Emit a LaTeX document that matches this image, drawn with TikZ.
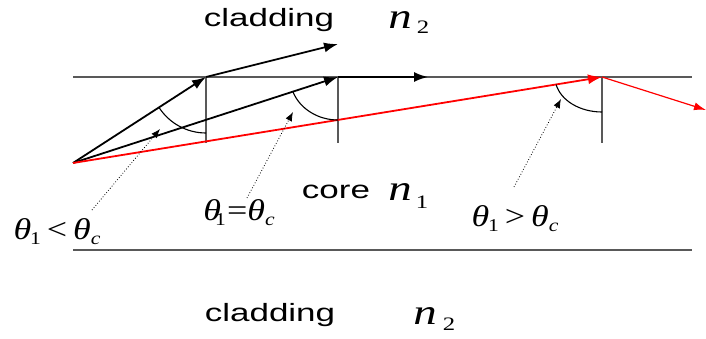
\documentclass[tikz,border=0pt]{standalone}
\usepackage{fontspec}
\setmainfont{Liberation Sans}
\newfontfamily\serif{Liberation Serif}
\usetikzlibrary{arrows.meta}
\tikzset{
  bound/.style={draw=black!65, line width=1.2pt},
  perp/.style={draw=black!65, line width=1.2pt},
  ray/.style={draw=black, line width=1.8pt, -{Latex[length=14pt,width=10pt]}},
  redray/.style={draw=red, line width=1.8pt, -{Latex[length=14pt,width=10pt]}},
  redout/.style={draw=red, line width=1.2pt, -{Latex[length=12pt,width=8pt]}},
  angarc/.style={draw=black, line width=1.1pt},
  pointer/.style={draw=black, line width=0.8pt, dotted, -{Latex[length=9pt,width=7pt]}},
  word/.style={inner sep=0pt, font=\fontsize{25}{25}\selectfont, xscale=1.4},
  sym/.style={inner sep=0pt, font=\serif\itshape\fontsize{36}{36}\selectfont, xscale=1.3},
  idx/.style={inner sep=0pt, font=\serif\fontsize{19}{19}\selectfont, xscale=1.3},
  mathlab/.style={inner sep=0pt, font=\serif\fontsize{30}{30}\selectfont, xscale=1.2},
}
\newcommand{\thet}{\textit{θ}}
\newcommand{\lsub}[1]{\raisebox{-0.35ex}{\fontsize{18}{18}\selectfont #1}}
\begin{document}
\begin{tikzpicture}[x=1pt,y=1pt]
\useasboundingbox (0,0) rectangle (706,338);
% points
\coordinate (S) at (73,175);
\coordinate (A) at (206,261);
\coordinate (A2) at (338,294);
\coordinate (B) at (338,261);
\coordinate (B2) at (428,261);
\coordinate (C) at (602,261);
\coordinate (C2) at (706,228);
\coordinate (Ab) at (206,195);
\coordinate (Bb) at (338,195);
\coordinate (Cb) at (602,195);
\coordinate (L1) at (73,261);
\coordinate (R1) at (692,261);
\coordinate (L2) at (73,88);
\coordinate (R2) at (692,88);
\coordinate (P1) at (92,128);
\coordinate (Q1) at (160,209);
\coordinate (P2) at (247,140);
\coordinate (Q2) at (293,226);
\coordinate (P3) at (514,151);
\coordinate (Q3) at (561,239);
% boundaries
\draw[bound] (L1) -- (R1);
\draw[bound] (L2) -- (R2);
% normals
\draw[perp] (A) -- (Ab);
\draw[perp] (B) -- (Bb);
\draw[perp] (C) -- (Cb);
% rays
\draw[ray] (S) -- (A);
\draw[ray] (A) -- (A2);
\draw[ray] (S) -- (B);
\draw[ray] (B) -- (B2);
\draw[redray] (S) -- (C);
\draw[redout] (C) -- (C2);
% angle arcs
\draw[angarc] (A) ++(212.9:56) arc[start angle=212.9, end angle=270, radius=56];
\draw[angarc] (B) ++(-45.07,-14.78) arc[start angle=200.1, end angle=270, x radius=48, y radius=43];
\draw[angarc] (C) ++(-45.89,-7.58) arc[start angle=192.5, end angle=270, x radius=47, y radius=35];
% pointers
\draw[pointer] (P1) -- (Q1);
\draw[pointer] (P2) -- (Q2);
\draw[pointer] (P3) -- (Q3);
% texts
\node[word] (clt) at (269,318) {cladding};
\node[sym] (nt) at (400,318) {n};
\node[idx] (nt2) at (423,311) {2};
\node[word] (clb) at (270,23) {cladding};
\node[sym] (nb) at (425,22) {n};
\node[idx] (nb2) at (449,14) {2};
\node[word] (core) at (336,146) {core};
\node[sym] (nc) at (400,146) {n};
\node[idx] (nc1) at (422,136) {1};
\node[mathlab] (lab1) at (57,106) {\thet\kern-1pt\lsub{1}\,<\,\thet\lsub{\itshape c}};
\node[mathlab] (lab2) at (239,125) {\thet\kern-5pt\lsub{1}\kern1pt=\thet\lsub{\itshape c}};
\node[mathlab] (lab3) at (515,119) {\thet\kern-1pt\lsub{1}\,>\,\thet\lsub{\itshape c}};
\end{tikzpicture}
\end{document}
